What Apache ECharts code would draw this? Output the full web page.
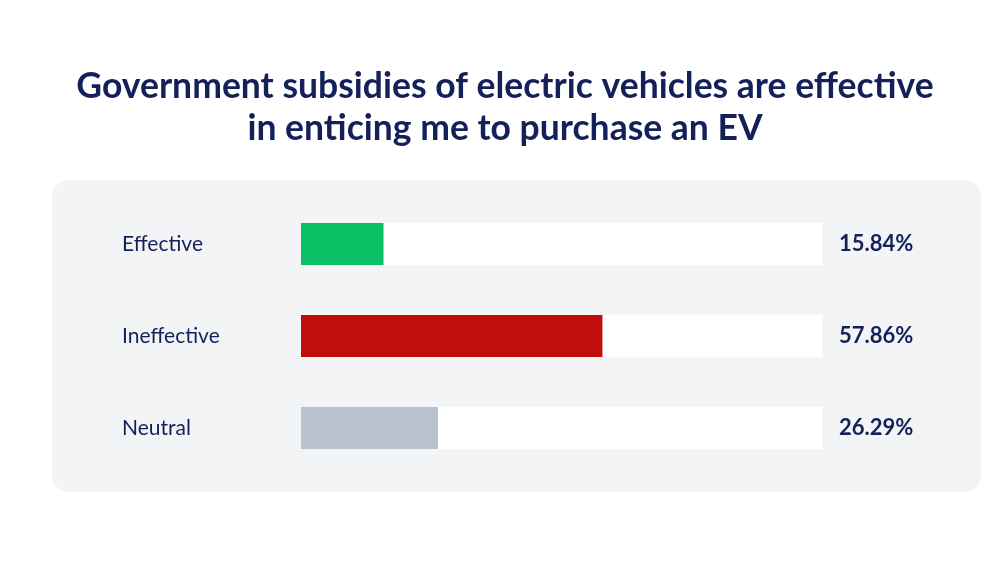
<!DOCTYPE html>
<html lang="en" style="height: 100%">
<head>
    <meta charset="utf-8">
</head>
<body style="height: 100%; margin: 0; background: #fff">
<div id="main" style="width: 1000px; height: 563px"></div>

<script type="text/javascript" src="https://cdn.jsdelivr.net/npm/echarts@6/dist/echarts.min.js"></script>
<script type="text/javascript">
    var categories = ['Effective', 'Ineffective', 'Neutral'];
    var shares = [15.84, 57.86, 26.29];
    var barColors = ['#0bbf64', '#c20d0d', '#b8c2ce'];

    var navy = '#13205a';
    var chartDom = document.getElementById('main');
    var myChart = echarts.init(chartDom);

    var option = {
        backgroundColor: '#ffffff',
        title: {
            text: 'Government subsidies of electric vehicles are effective\nin enticing me to purchase an EV',
            left: 500,
            top: 61,
            textAlign: 'center',
            textStyle: {
                fontFamily: 'Lato',
                fontWeight: 'bold',
                fontSize: 35.5,
                lineHeight: 42,
                color: navy
            }
        },
        graphic: [{
            type: 'rect',
            z: -10,
            shape: { x: 52, y: 180, width: 929, height: 312, r: 16 },
            style: { fill: '#f2f4f6' }
        }],
        grid: { left: 301, right: 178, top: 198, bottom: 89 },
        xAxis: {
            type: 'value',
            min: 0,
            max: 100,
            show: false
        },
        yAxis: [{
            type: 'category',
            inverse: true,
            data: categories,
            axisLine: { show: false },
            axisTick: { show: false },
            axisLabel: {
                align: 'left',
                margin: 179,
                fontFamily: 'Lato',
                fontSize: 21,
                color: navy
            }
        }, {
            type: 'category',
            inverse: true,
            position: 'right',
            data: shares.map(function (v) { return v.toFixed(2) + '%'; }),
            axisLine: { show: false },
            axisTick: { show: false },
            axisLabel: {
                align: 'left',
                margin: 17,
                fontFamily: 'Lato',
                fontWeight: 'bold',
                fontSize: 22,
                color: navy
            }
        }],
        series: [{
            type: 'bar',
            barWidth: 42,
            silent: true,
            showBackground: true,
            backgroundStyle: { color: '#ffffff' },
            data: shares.map(function (v, i) {
                return { value: v, itemStyle: { color: barColors[i] } };
            })
        }]
    };

    option && myChart.setOption(option);
</script>
</body>
</html>
